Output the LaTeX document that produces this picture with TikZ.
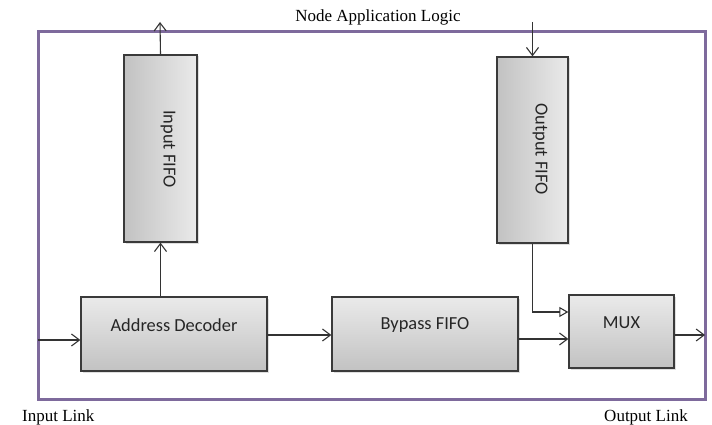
\documentclass[tikz,border=0pt]{standalone}
\usepackage{fontspec}
\setmainfont{Liberation Serif}
\newfontfamily\boxfont{Carlito}
\usetikzlibrary{arrows.meta,shadows}

\definecolor{framepurple}{HTML}{7E6A9C}
\definecolor{edgegray}{HTML}{3A3A3A}
\definecolor{wiregray}{HTML}{333333}
\definecolor{shadelight}{HTML}{EAEAEA}
\definecolor{shadedark}{HTML}{C2C2C2}

% gradients: light top / dark bottom, and dark left / light right
\pgfdeclareverticalshading{blockshade}{100bp}{color(0bp)=(shadedark); color(25bp)=(shadedark); color(75bp)=(shadelight); color(100bp)=(shadelight)}
\pgfdeclarehorizontalshading{fifoshade}{100bp}{color(0bp)=(shadedark); color(25bp)=(shadedark); color(75bp)=(shadelight); color(100bp)=(shadelight)}

\tikzset{
  hbox/.style={draw=edgegray, line width=1.3pt, shading=blockshade, inner sep=0pt,
    drop shadow={shadow xshift=1.5pt, shadow yshift=-1.5pt, opacity=0.25}},
  vbox/.style={draw=edgegray, line width=1.3pt, shading=fifoshade, inner sep=0pt,
    drop shadow={shadow xshift=1.5pt, shadow yshift=-1.5pt, opacity=0.25}},
  boxtext/.style={font=\boxfont\fontsize{18.4}{20}\selectfont, text=black!85, inner sep=0pt},
  seriflabel/.style={font=\fontsize{17}{19}\selectfont, inner sep=0pt},
  wire/.style={draw=wiregray, line width=1.1pt,
    -{Straight Barb[length=8pt,width=12pt,line width=1.1pt]}},
  trywire/.style={draw=wiregray, line width=1.1pt,
    -{Triangle[open,length=9pt,width=10pt,line width=1.1pt]}}
}

\begin{document}
\begin{tikzpicture}[x=1pt,y=-1pt]
  \useasboundingbox (0,0) rectangle (712,425);

  % enclosing application frame
  \draw[framepurple, line width=3pt] (38,32) rectangle (705,399);
  \node[seriflabel] (title) at (378,17) {Node Application Logic};
  \node[seriflabel, anchor=west] (inlink) at (22,417) {Input Link};
  \node[seriflabel, anchor=east] (outlink) at (688,417) {Output Link};

  % functional blocks
  \node[vbox, minimum width=73pt, minimum height=187pt] (infifo) at (160.5,148.5) {};
  \node[vbox, minimum width=71pt, minimum height=186pt] (outfifo) at (532.5,150) {};
  \node[hbox, minimum width=186pt, minimum height=74pt] (dec) at (174,334) {};
  \node[hbox, minimum width=186pt, minimum height=74pt] (byp) at (425,334) {};
  \node[hbox, minimum width=105pt, minimum height=73pt] (mux) at (621.5,331.5) {};

  % block captions
  \node[boxtext, rotate=-90] (infifotxt) at (168,149) {Input FIFO};
  \node[boxtext, rotate=-90] (outfifotxt) at (540,149) {Output FIFO};
  \node[boxtext] (dectxt) at (174,325) {Address Decoder};
  \node[boxtext] (byptxt) at (425,325) {Bypass FIFO};
  \node[boxtext] (muxtxt) at (621.5,323) {MUX};

  % free ends of the link wires
  \coordinate (inport) at (38,340);
  \coordinate (outport) at (705,335);
  \coordinate (toapp) at (160,22);
  \coordinate (fromapp) at (532.5,22);

  % data paths
  \draw[wire] (inport) -- (dec.west |- inport);
  \draw[wire] (dec.north -| infifo.south) -- (infifo.south);
  \draw[wire] (infifo.north) -- (toapp);
  \draw[wire] (fromapp) -- (outfifo.north);
  \draw[wire] ([yshift=-1pt]dec.east) -- ([yshift=-1pt]byp.west);
  \draw[wire] (byp.east |- 0,339) -- (mux.west |- 0,339);
  \draw[trywire] (outfifo.south) |- (mux.west |- 0,312);
  \draw[wire] (mux.east |- outport) -- (outport);
\end{tikzpicture}
\end{document}
